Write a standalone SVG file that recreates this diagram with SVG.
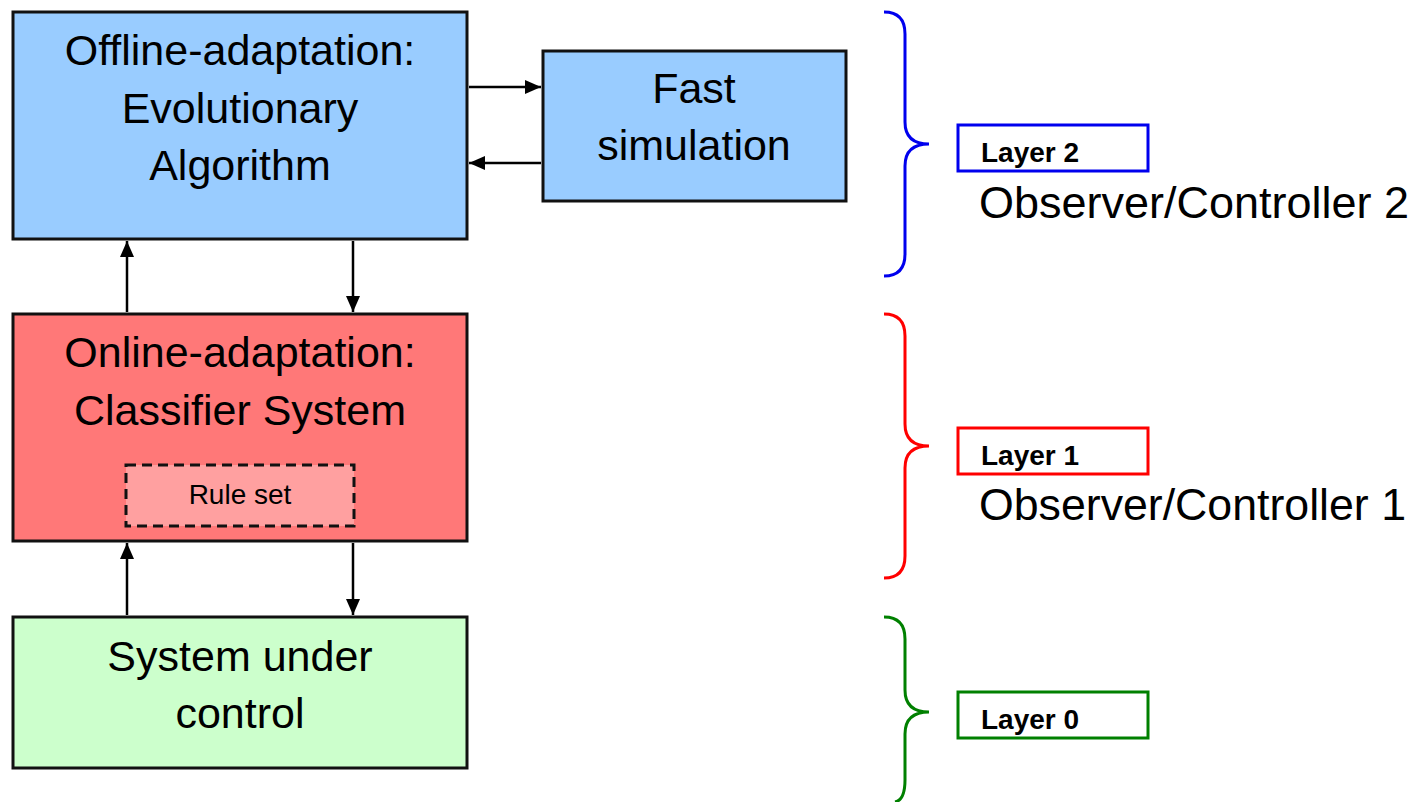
<svg xmlns="http://www.w3.org/2000/svg" width="1423" height="802" viewBox="0 0 1423 802">
  <style>
    .box { stroke: #111; stroke-width: 3; }
    .lbl { font-family: "Liberation Sans", Arial, sans-serif; font-size: 43px; fill: #000; text-anchor: middle; }
    .small { font-family: "Liberation Sans", Arial, sans-serif; font-size: 28px; fill: #000; text-anchor: middle; }
    .conn { stroke: #000; stroke-width: 2.5; fill: none; marker-end: url(#arrow); }
    .brace { fill: none; stroke-width: 3; }
    .tag { fill: #fff; stroke-width: 3; }
    .tagtxt { font-family: "Liberation Sans", Arial, sans-serif; font-size: 28px; font-weight: bold; fill: #000; }
    .obs { font-family: "Liberation Sans", Arial, sans-serif; font-size: 44px; fill: #000; }
  </style>
  <defs>
    <marker id="arrow" markerUnits="userSpaceOnUse" markerWidth="16" markerHeight="14" refX="16" refY="7" orient="auto">
      <path d="M0,0 L16,7 L0,14 z" fill="#000"/>
    </marker>
  </defs>

  <rect x="0" y="0" width="1423" height="802" fill="#fff"/>

  <!-- Layer 2: offline adaptation -->
  <g id="offline-adaptation">
    <rect class="box" x="13" y="12" width="454" height="227" fill="#99CCFF"/>
    <text class="lbl" x="240" y="65">Offline-adaptation:</text>
    <text class="lbl" x="240" y="123">Evolutionary</text>
    <text class="lbl" x="240" y="180">Algorithm</text>
  </g>

  <g id="fast-simulation">
    <rect class="box" x="543" y="51" width="303" height="150" fill="#99CCFF"/>
    <text class="lbl" x="694" y="103">Fast</text>
    <text class="lbl" x="694" y="160">simulation</text>
  </g>

  <!-- Layer 1: online adaptation -->
  <g id="online-adaptation">
    <rect class="box" x="13" y="314" width="454" height="227" fill="#FF7878"/>
    <text class="lbl" x="240" y="367">Online-adaptation:</text>
    <text class="lbl" x="240" y="425">Classifier System</text>
  </g>

  <g id="rule-set">
    <rect x="126" y="465" width="228" height="61" fill="#FFA0A0" stroke="#111" stroke-width="3" stroke-dasharray="10,6"/>
    <text class="small" x="240" y="504">Rule set</text>
  </g>

  <!-- Layer 0: system under control -->
  <g id="system-under-control">
    <rect class="box" x="13" y="617" width="454" height="151" fill="#CCFFCC"/>
    <text class="lbl" x="240" y="671">System under</text>
    <text class="lbl" x="240" y="728">control</text>
  </g>

  <!-- Connectors -->
  <g id="connectors">
    <line class="conn" x1="469" y1="87" x2="541" y2="87"/>
    <line class="conn" x1="541" y1="163" x2="469" y2="163"/>
    <line class="conn" x1="127" y1="312" x2="127" y2="241"/>
    <line class="conn" x1="353" y1="241" x2="353" y2="312"/>
    <line class="conn" x1="127" y1="615" x2="127" y2="543"/>
    <line class="conn" x1="353" y1="543" x2="353" y2="615"/>
  </g>

  <!-- Layer braces and labels -->
  <g id="layer-2">
    <path class="brace" stroke="#0000EE" d="M884,12 Q905,12 905,34 L905,122 Q905,144 929,144 Q905,144 905,166 L905,254 Q905,276 884,276"/>
    <rect class="tag" stroke="#0000EE" x="958" y="125" width="190" height="46"/>
    <text class="tagtxt" x="981" y="162">Layer 2</text>
    <text class="obs" x="979" y="218" textLength="430" lengthAdjust="spacingAndGlyphs">Observer/Controller 2</text>
  </g>

  <g id="layer-1">
    <path class="brace" stroke="#FF0000" d="M884,314 Q905,314 905,336 L905,424 Q905,446 929,446 Q905,446 905,468 L905,556 Q905,578 884,578"/>
    <rect class="tag" stroke="#FF0000" x="958" y="428" width="190" height="46"/>
    <text class="tagtxt" x="981" y="465">Layer 1</text>
    <text class="obs" x="979" y="520" textLength="427" lengthAdjust="spacingAndGlyphs">Observer/Controller 1</text>
  </g>

  <g id="layer-0">
    <path class="brace" stroke="#008000" d="M884,617 Q905,617 905,639 L905,690 Q905,712 929,712 Q905,712 905,734 L905,780 Q905,800 895,802"/>
    <rect class="tag" stroke="#008000" x="958" y="692" width="190" height="46"/>
    <text class="tagtxt" x="981" y="729">Layer 0</text>
  </g>
</svg>
